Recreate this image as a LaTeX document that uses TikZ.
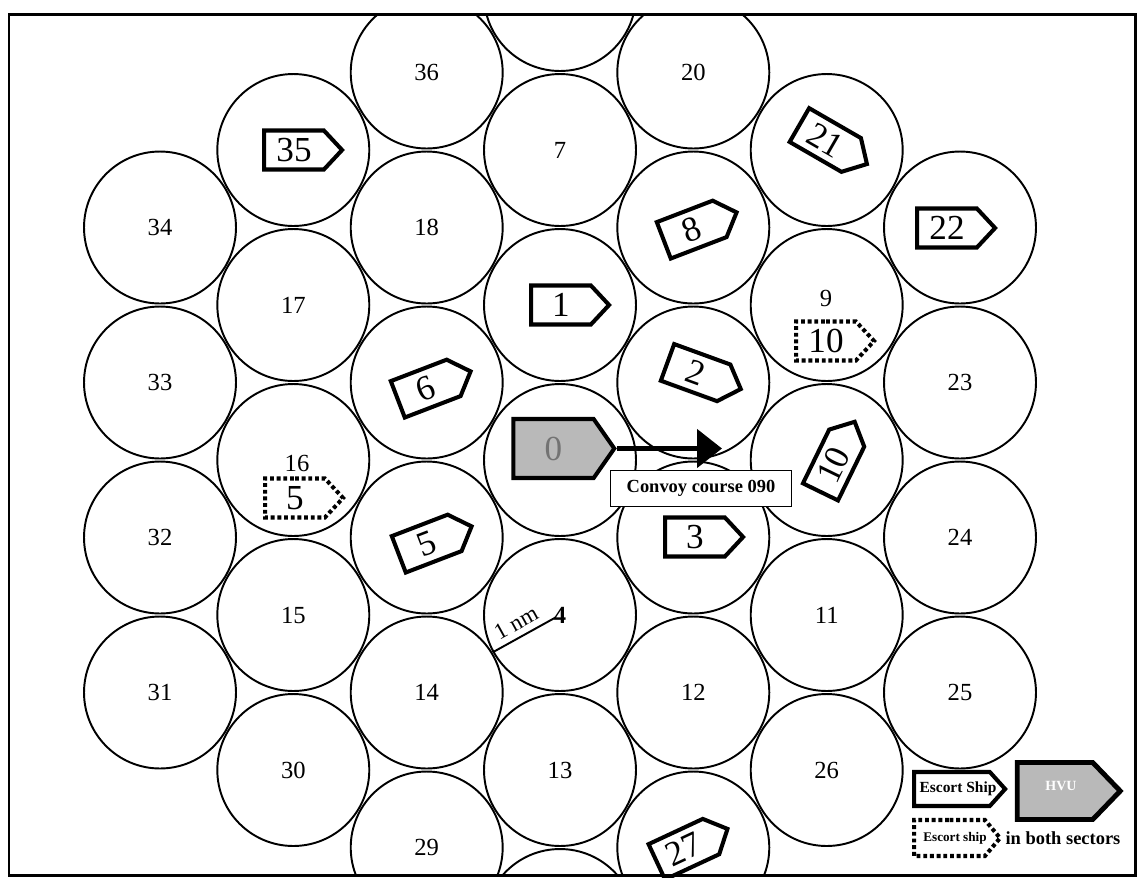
\documentclass[tikz,border=0pt]{standalone}
\usepackage{fontspec}
\setmainfont{Liberation Serif}
\usetikzlibrary{shapes.symbols, arrows.meta}
\begin{document}
\begin{tikzpicture}[x=0.02cm, y=-0.02cm,
  cell/.style={circle, draw, line width=1.1pt, minimum size=3.04cm, inner sep=0pt,
    font=\fontsize{14}{15}\selectfont},
  lbl/.style={inner sep=0pt, font=\fontsize{14}{15}\selectfont},
  ship/.style={shape=signal, signal to=east, signal pointer angle=94, draw,
    line width=2.3pt, minimum width=1.56cm, minimum height=0.78cm, inner sep=0pt,
    fill=white, font=\fontsize{20}{22}\selectfont},
  dotship/.style={ship, dash pattern=on 2.2pt off 1.6pt},
  hvu/.style={shape=signal, signal to=east, signal pointer angle=110, draw,
    line width=2.3pt, minimum width=2.02cm, minimum height=1.18cm, inner sep=0pt,
    fill=gray!55, text=black!55, font=\fontsize{20}{22}\selectfont},
  thinline/.style={line width=1.1pt}
]
\useasboundingbox (0,0) rectangle (1137,877);
\begin{scope}
\clip (9,14) rectangle (1135,875);
% column 1
\node[cell] (n34) at (160,227.5) {34};
\node[cell] (n33) at (160,382.5) {33};
\node[cell] (n32) at (160,537.5) {32};
\node[cell] (n31) at (160,692.5) {31};
% column 2
\node[cell] (n35) at (293.3,150) {};
\node[cell] (n17) at (293.3,305) {17};
\node[cell] (n16) at (293.3,460) {};
\node[cell] (n15) at (293.3,615) {15};
\node[cell] (n30) at (293.3,770) {30};
% column 3
\node[cell] (n36) at (426.7,72.5) {36};
\node[cell] (n18) at (426.7,227.5) {18};
\node[cell] (n6) at (426.7,382.5) {};
\node[cell] (n5) at (426.7,537.5) {};
\node[cell] (n14) at (426.7,692.5) {14};
\node[cell] (n29) at (426.7,847.5) {29};
% column 4
\node[cell] (ntop) at (560,-5) {};
\node[cell] (n7) at (560,150) {7};
\node[cell] (n1) at (560,305) {};
\node[cell] (n0) at (560,460) {};
\node[cell] (n4) at (560,615) {\textbf{4}};
\node[cell] (n13) at (560,770) {13};
\node[cell] (nbot) at (560,925) {};
% column 5
\node[cell] (n20) at (693.3,72.5) {20};
\node[cell] (n8) at (693.3,227.5) {};
\node[cell] (n2) at (693.3,382.5) {};
\node[cell] (n3) at (693.3,537.5) {};
\node[cell] (n12) at (693.3,692.5) {12};
\node[cell] (n27) at (693.3,847.5) {};
% column 6
\node[cell] (n21) at (826.7,150) {};
\node[cell] (n9) at (826.7,305) {};
\node[cell] (n10) at (826.7,460) {};
\node[cell] (n11) at (826.7,615) {11};
\node[cell] (n26) at (826.7,770) {26};
% column 7
\node[cell] (n22) at (960,227.5) {};
\node[cell] (n23) at (960,382.5) {23};
\node[cell] (n24) at (960,537.5) {24};
\node[cell] (n25) at (960,692.5) {25};
\end{scope}

% labels off centre
\node[lbl] (l9) at (826,298) {9};
\node[lbl] (l16) at (297,463) {16};

% escort ships
\node[ship] (s35) at (294,150) {35};
\node[ship, rotate=21] (s6) at (425.7,388.6) {6};
\node[ship, rotate=21] (s5) at (426.7,543.6) {5};
\node[ship] (s1) at (561,305) {1};
\node[ship] (s3) at (695,537) {3};
\node[ship, rotate=21] (s8) at (691.7,229.6) {8};
\node[ship, rotate=-20] (s2) at (695.6,372.6) {2};
\node[ship, rotate=25] (s27) at (683.9,849.2) {27};
\node[ship, rotate=-30] (s21) at (825.3,140) {21};
\node[ship, rotate=64] (s10) at (833.6,465) {10};
\node[ship] (s22) at (947,228) {22};
\node[dotship] (d10) at (826,341) {10};
\node[dotship] (d5) at (295,498) {5};

% HVU and course
\node[hvu] (s0) at (553.5,448.5) {0};
\coordinate (head) at (722,448.5);
\draw[line width=2.8pt, -{Triangle[length=0.5cm,width=0.76cm]}] (s0.east) -- (head);
\node[draw, fill=white, line width=1.1pt, minimum width=3.62cm, minimum height=0.72cm,
  inner sep=0pt, font=\bfseries\fontsize{10.5}{12}\selectfont] (conv) at (701,488.5) {Convoy course 090};

% 1 nm radius
\draw[thinline, shorten >=0.1cm] (n4.209) -- node[pos=0.45, above, sloped, font=\fontsize{13}{14}\selectfont] (nm) {1 nm} (n4.center);

% legend
\node[ship, minimum width=1.82cm, minimum height=0.68cm, signal pointer angle=96] (legE) at (952,789) {};
\node[font=\bfseries\fontsize{8.8}{10}\selectfont, inner sep=0pt] (legEt) at (958,789) {Escort Ship};
\node[hvu, minimum width=2.06cm, minimum height=1.14cm, signal pointer angle=92, line width=2.8pt] (legH) at (1055,791) {};
\node[font=\bfseries\fontsize{8}{9}\selectfont, text=white, inner sep=0pt] (legHt) at (1061,786) {HVU};
\node[dotship, minimum width=1.72cm, minimum height=0.72cm, signal pointer angle=100] (legD) at (949.5,838) {};
\node[font=\bfseries\fontsize{7.5}{9}\selectfont, inner sep=0pt] (legDt) at (955,838) {Escort ship};
\node[font=\bfseries\fontsize{10.5}{12}\selectfont, inner sep=0pt] (legB) at (1063,838) {in both sectors};

% frame
\draw[line width=1.7pt] (9,14) rectangle (1135,875);
\end{tikzpicture}
\end{document}
